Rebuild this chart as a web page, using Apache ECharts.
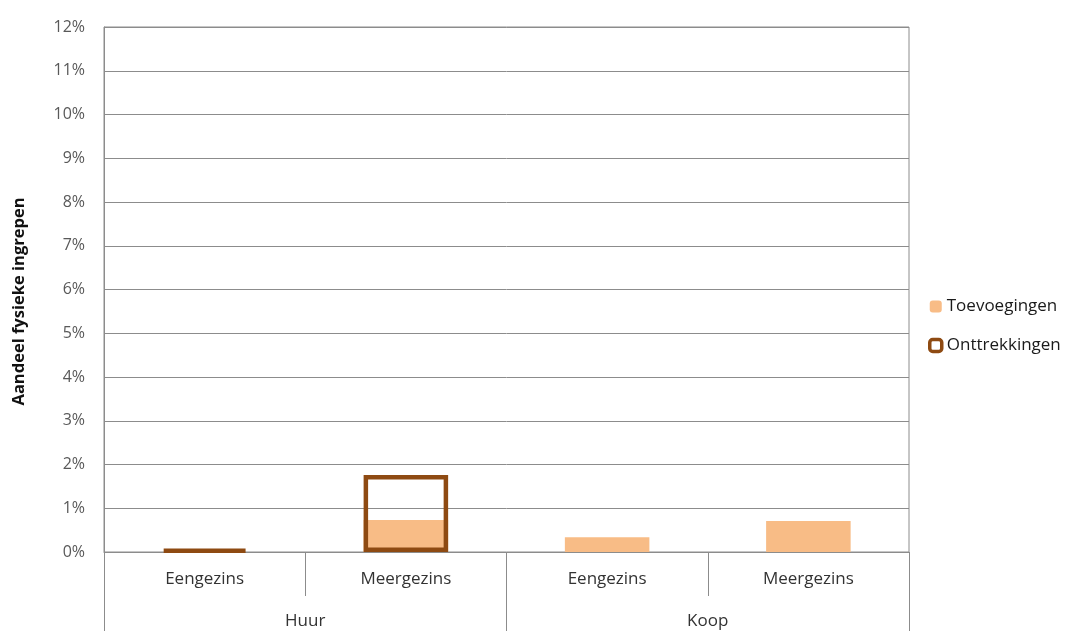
<!DOCTYPE html>
<html>
<head>
<meta charset="utf-8">
<script src="https://cdn.jsdelivr.net/npm/echarts@6/dist/echarts.min.js"></script>
<style>html,body{margin:0;padding:0;background:#fff}#c{width:1077px;height:631px}</style>
</head>
<body>
<div id="c"></div>
<script>
const innerCategories = ['Eengezins', 'Meergezins', 'Eengezins', 'Meergezins'];
const outerCategories = ['Huur', 'Koop'];
const toevoegingen = [0, 0.73, 0.34, 0.71];
const onttrekkingen = [0.06, 1.76, null, null];
const yTicks = [0, 1, 2, 3, 4, 5, 6, 7, 8, 9, 10, 11, 12];

const FONT = '"Open Sans", Lato, sans-serif';
const chart = echarts.init(document.getElementById('c'), null, {renderer: 'canvas'});
chart.setOption({
  animation: false,
  backgroundColor: '#fff',
  textStyle: {fontFamily: FONT},
  grid: {left: 104, right: 168, top: 27, bottom: 79, show: true, borderColor: '#8c8c8c', borderWidth: 1},
  legend: {
    orient: 'vertical', left: 923, top: 293, itemGap: 22, itemWidth: 12, itemHeight: 12,
    textStyle: {fontSize: 17, color: '#1a1a1a', fontFamily: FONT},
    data: [
      {name: 'Toevoegingen', itemStyle: {color: '#F8BC86'}},
      {name: 'Onttrekkingen', itemStyle: {color: '#fff', borderColor: '#8E4A12', borderWidth: 3.5}}
    ]
  },
  xAxis: [
    {
      type: 'category', data: innerCategories, position: 'bottom',
      axisLine: {show: true, lineStyle: {color: '#8c8c8c'}},
      axisTick: {show: true, interval: 0, length: 44, lineStyle: {color: '#8c8c8c'}},
      axisLabel: {interval: 0, margin: 19, fontSize: 17, color: '#333', fontFamily: FONT}
    },
    {
      type: 'category', data: outerCategories, position: 'bottom',
      axisLine: {show: false},
      axisTick: {show: true, interval: 0, length: 80, lineStyle: {color: '#8c8c8c'}},
      axisLabel: {interval: 0, margin: 61, fontSize: 17, color: '#333', fontFamily: FONT}
    }
  ],
  yAxis: {
    type: 'value', min: 0, max: 12, interval: 1,
    name: 'Aandeel fysieke ingrepen', nameLocation: 'middle', nameGap: 76, nameRotate: 90,
    nameTextStyle: {fontSize: 16.5, fontWeight: 'bold', color: '#111', fontFamily: FONT, padding: [0, 24, 0, 0]},
    axisLine: {show: true, lineStyle: {color: '#8c8c8c'}},
    axisTick: {show: false},
    axisLabel: {
      margin: 19, fontSize: 16, color: '#595959', fontFamily: FONT,
      formatter: v => yTicks.includes(v) ? v + '%' : ''
    },
    splitLine: {lineStyle: {color: '#8c8c8c', width: 1}}
  },
  series: [
    {
      name: 'Toevoegingen', type: 'bar', xAxisIndex: 0, data: toevoegingen,
      barWidth: '42%', barGap: '-100%',
      itemStyle: {color: '#F8BC86'}
    },
    {
      name: 'Onttrekkingen', type: 'bar', xAxisIndex: 0, data: onttrekkingen,
      barWidth: '42%', barGap: '-100%',
      itemStyle: {color: 'rgba(255,255,255,0)', borderColor: '#8E4A12', borderWidth: 4.5},
      emphasis: {disabled: true}
    }
  ]
});
</script>
</body>
</html>
